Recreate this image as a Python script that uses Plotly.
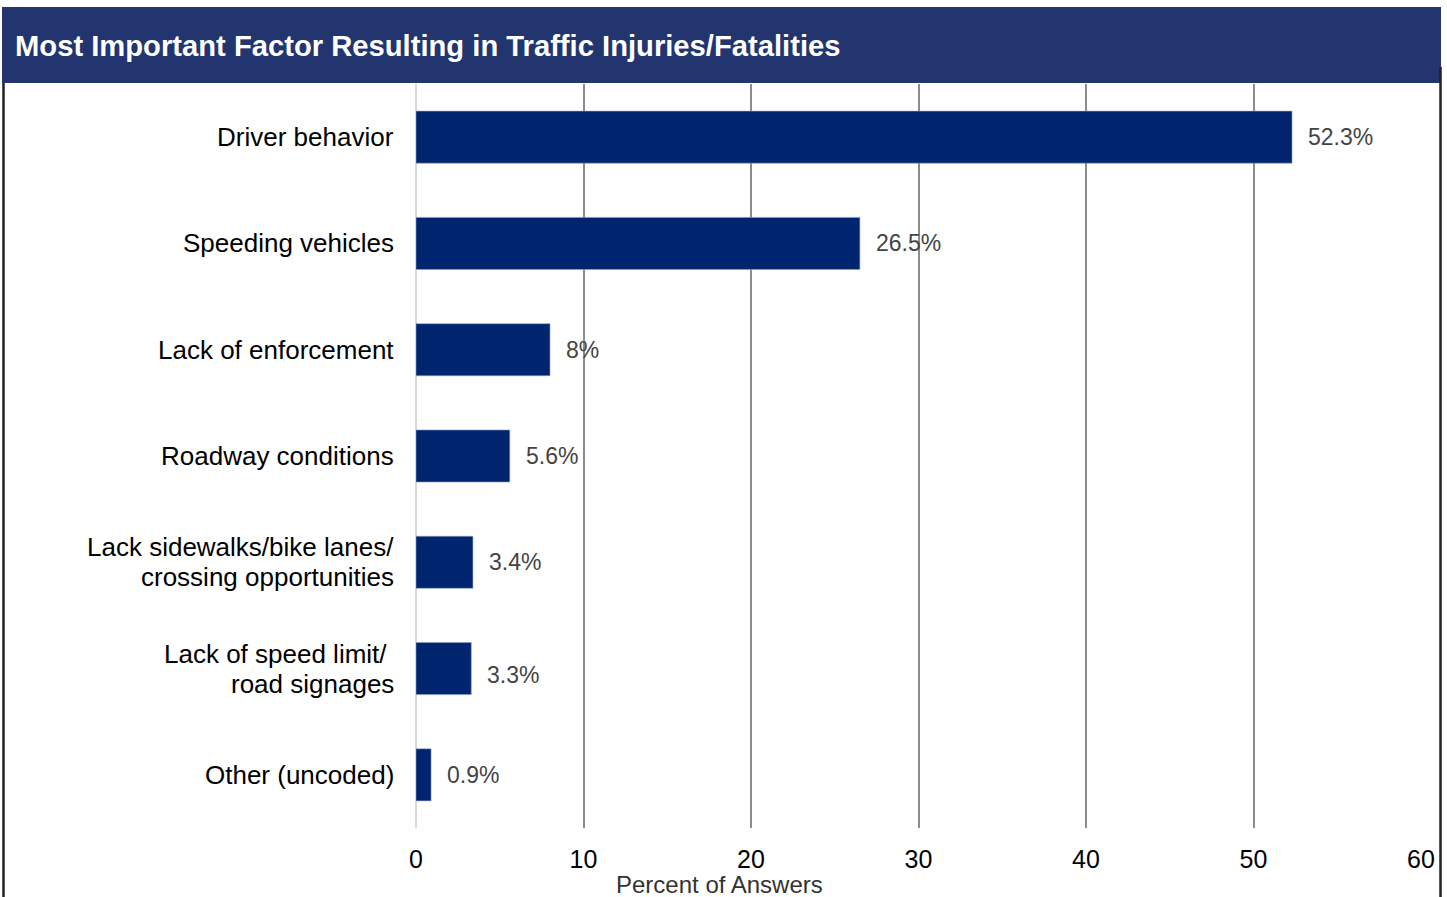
import plotly.graph_objects as go

categories = [
    "Driver behavior",
    "Speeding vehicles",
    "Lack of enforcement",
    "Roadway conditions",
    "Lack sidewalks/bike lanes/<br>crossing opportunities",
    "Lack of speed limit/ <br>road signages",
    "Other (uncoded)",
]
values = [52.3, 26.5, 8, 5.6, 3.4, 3.3, 0.9]
value_labels = ["52.3%", "26.5%", "8%", "5.6%", "3.4%", "3.3%", "0.9%"]
x_ticks = [0, 10, 20, 30, 40, 50, 60]
title_text = "Most Important Factor Resulting in Traffic Injuries/Fatalities"
x_title = "Percent of Answers"

W, H = 1447, 897
ML, MR, MT, MB = 416, 26, 84, 69
PW = W - ML - MR
PH = H - MT - MB

def px(p):
    return (p - ML) / PW

def py(p):
    return (H - MB - p) / PH

BAR = "#00256e"
BANNER = "#22356f"
FONT = "Liberation Sans, Arial, sans-serif"

fig = go.Figure(go.Bar(
    x=values, y=categories, orientation="h",
    marker=dict(color=BAR, line=dict(color="#8fa0c8", width=0.6)),
    hoverinfo="skip",
))

# value labels (the 3.3% label sits slightly low in the reference)
label_yshift = [0, 0, 0, 0, 0, -6, 0]
for v, lab, c, ys in zip(values, value_labels, categories, label_yshift):
    fig.add_annotation(x=v, y=c, text=lab, showarrow=False, xanchor="left",
                       xshift=14, yshift=ys, font=dict(family=FONT, size=23, color="#444444"))

# category labels, drawn as annotations for tighter line spacing
LINE = 30
for c in categories:
    lines = c.split("<br>")
    n = len(lines)
    for i, ln in enumerate(lines):
        off = ((n - 1) / 2 - i) * LINE
        fig.add_annotation(x=0, y=c, xref="x", yref="y", text=ln.replace(" ", "&nbsp;") if ln.endswith(" ") else ln,
                           showarrow=False, xanchor="right", yanchor="middle",
                           xshift=-20, yshift=off,
                           font=dict(family=FONT, size=26, color="black"))

shapes = [
    dict(type="rect", xref="paper", yref="paper", x0=px(2), x1=px(1441),
         y0=py(83), y1=py(7), fillcolor=BANNER, line=dict(width=0), layer="above"),
    dict(type="line", xref="paper", yref="paper", x0=px(3.5), x1=px(3.5),
         y0=py(83), y1=py(900), line=dict(color="#222222", width=2.5)),
    dict(type="line", xref="paper", yref="paper", x0=px(1440.5), x1=px(1440.5),
         y0=py(67), y1=py(900), line=dict(color="#222222", width=2.5)),
]

fig.add_annotation(xref="paper", yref="paper", x=px(13), y=py(46), text="<b>" + title_text + "</b>",
                   showarrow=False, xanchor="left", yanchor="middle",
                   font=dict(family=FONT, size=29.2, color="white"))
fig.add_annotation(xref="paper", yref="paper", x=px(719), y=py(884), text=x_title,
                   showarrow=False, xanchor="center", yanchor="middle",
                   font=dict(family=FONT, size=24, color="#333333"))

fig.update_layout(
    width=W, height=H,
    margin=dict(l=ML, r=MR, t=MT, b=MB, autoexpand=False),
    paper_bgcolor="white", plot_bgcolor="white",
    bargap=0.51, showlegend=False, shapes=shapes,
    font=dict(family=FONT, color="black"),
    xaxis=dict(range=[0, 60], tickvals=x_ticks, showgrid=True, gridcolor="#8c8c8c",
               gridwidth=1.5, zeroline=True, zerolinecolor="#d9d9d9", zerolinewidth=2,
               showline=False, ticks="", tickfont=dict(size=25, color="black"),
               ticklabelstandoff=14, fixedrange=True),
    yaxis=dict(categoryorder="array", categoryarray=categories, autorange="reversed",
               showgrid=False, zeroline=False, showline=False, ticks="",
               showticklabels=False, fixedrange=True),
)

fig.write_html("out.html", config={"displayModeBar": False},
               post_script="document.body.style.margin='0';document.body.style.overflow='hidden';")
